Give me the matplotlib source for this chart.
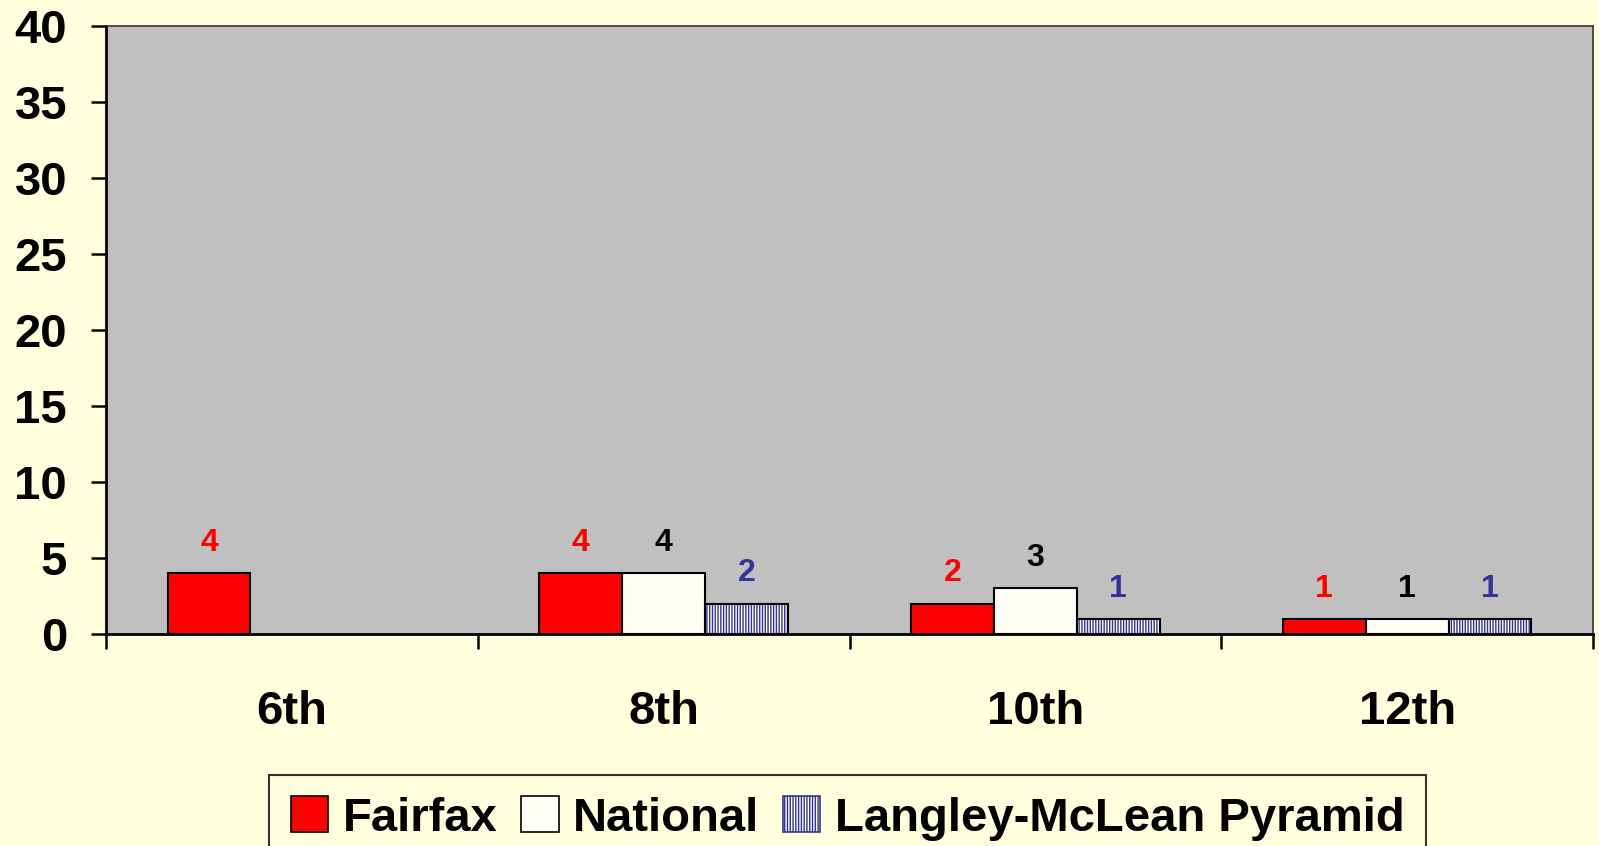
import numpy as np
import matplotlib.pyplot as plt
from matplotlib.patches import Patch

plt.rcParams['font.family'] = ['Liberation Sans', 'DejaVu Sans']
plt.rcParams['font.weight'] = 'bold'
plt.rcParams['hatch.linewidth'] = 1.0

# Data
grades = ["6th", "8th", "10th", "12th"]
fairfax = [4, 4, 2, 1]
national = [np.nan, 4, 3, 1]
langley = [np.nan, 2, 1, 1]
series_names = ["Fairfax", "National", "Langley-McLean Pyramid"]

bg = "#FFFFDD"
plot_bg = "#C0C0C0"
red = "#FF0000"
white = "#FFFFF7"
navy = "#333399"

fig = plt.figure(figsize=(15.99, 8.46), dpi=100, facecolor=bg)
ax = fig.add_axes([106 / 1599, 1 - 634 / 846, (1593 - 106) / 1599, (634 - 26) / 846])
ax.set_facecolor(plot_bg)

x = np.arange(len(grades))
w = 0.223

# Fairfax
ax.bar(x - w, fairfax, w, color=red, edgecolor="black", linewidth=1.5, zorder=3)
# National
ax.bar(x, national, w, color=white, edgecolor="black", linewidth=1.5, zorder=3)
# Langley: hatch in navy, outline in black
ax.bar(x + w, langley, w, color=white, edgecolor=navy, hatch="||||||", linewidth=0, zorder=3)
ax.bar(x + w, langley, w, fill=False, edgecolor="black", linewidth=1.5, zorder=4)

# Value labels
for vals, off, col in [(fairfax, -w, red), (national, 0, "black"), (langley, w, navy)]:
    for xi, v in zip(x, vals):
        if np.isnan(v):
            continue
        ax.annotate(f"{int(v)}", (xi + off, v), xytext=(0, 11), textcoords="offset points",
                    ha="center", va="bottom", fontsize=23, fontweight="bold", color=col)

ax.set_xlim(-0.5, len(grades) - 0.5)
ax.set_ylim(0, 40)
ax.set_yticks(range(0, 41, 5))
ax.tick_params(axis="y", length=11, width=1.8, labelsize=34, pad=17, direction="out")

# x ticks at category boundaries, labels centered
ax.set_xticks(np.arange(-0.5, len(grades), 1))
ax.set_xticklabels([])
ax.set_xticks(x, minor=True)
ax.set_xticklabels(grades, minor=True, fontsize=34, fontweight="bold")
ax.tick_params(axis="x", which="major", length=11, width=1.8, direction="out")
ax.tick_params(axis="x", which="minor", length=0, pad=40)

for s in ["left", "bottom"]:
    ax.spines[s].set_linewidth(2)
    ax.spines[s].set_color("black")
for s in ["top", "right"]:
    ax.spines[s].set_linewidth(1.2)
    ax.spines[s].set_color("#333333")

handles = [
    Patch(facecolor=red, edgecolor="black", linewidth=1.2),
    Patch(facecolor=white, edgecolor="black", linewidth=1.2),
    Patch(facecolor=white, edgecolor=navy, hatch="||||||", linewidth=1.2),
]
leg = fig.legend(handles, series_names, loc="upper center", bbox_to_anchor=(0.53, 1 - 775 / 846),
                 ncol=3, fontsize=34, frameon=True, fancybox=False, facecolor=bg,
                 edgecolor="black", handlelength=0.8, handleheight=0.8, handletextpad=0.3,
                 columnspacing=0.5, borderpad=0.45, borderaxespad=0)
leg.get_frame().set_linewidth(1.5)
for t in leg.get_texts():
    t.set_fontweight("bold")

fig.savefig("out.png", dpi=100, facecolor=bg)
